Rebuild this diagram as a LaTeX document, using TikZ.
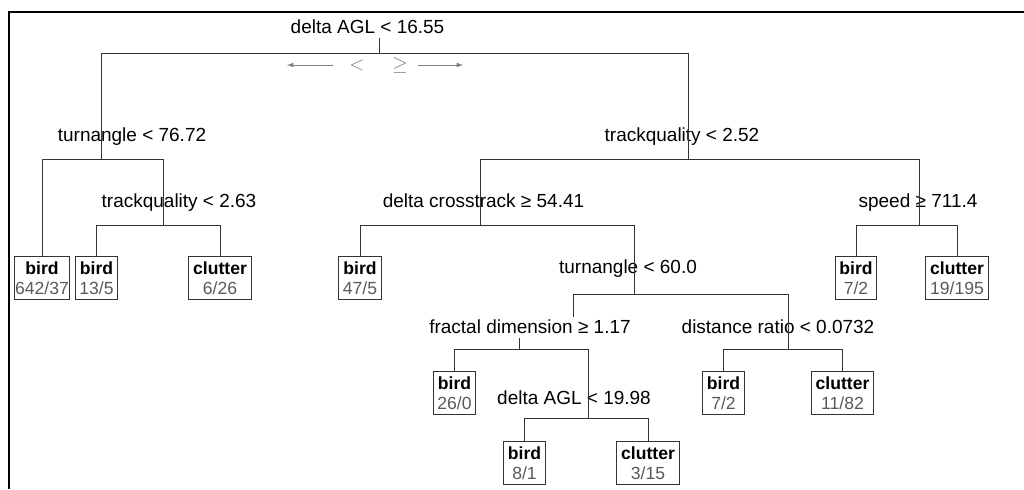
\documentclass[tikz,border=0pt]{standalone}
\usepackage{fontspec}
\setmainfont{Liberation Sans}
\tikzset{
  split/.style={anchor=base, font=\fontsize{13.5}{16}\selectfont},
  leaf/.style={draw=black!80, line width=0.7pt, anchor=north, align=center,
    inner xsep=3pt, inner ysep=3.4pt, font=\fontsize{12.5}{14.5}\selectfont},
  branch/.style={draw=black!80, line width=0.7pt},
  hintsym/.style={black!50, font=\fontsize{15}{17}\selectfont},
  hint/.style={black!50, line width=0.6pt, -latex},
}
\newcommand{\leaflabel}[2]{\textbf{#1}\\{\color{black!65}#2}}
\begin{document}
\begin{tikzpicture}[x=0.025cm, y=-0.025cm]
        \useasboundingbox (0,0) rectangle (1024,489);
        \draw[line width=1.8pt] (9,489) -- (9,12) -- (1024,12);

        % Split labels
        \node[split] (root) at (367.5,33) {delta AGL < 16.55};
        \node[split] (turnA) at (132,141) {turnangle < 76.72};
        \node[split] (tqA) at (179,207) {trackquality < 2.63};
        \node[split] (tqB) at (682,141) {trackquality < 2.52};
        \node[split] (cross) at (483.5,207) {delta crosstrack ≥ 54.41};
        \node[split] (speed) at (918,207) {speed ≥ 711.4};
        \node[split] (turnB) at (628,273) {turnangle < 60.0};
        \node[split] (frac) at (530,333) {fractal dimension ≥ 1.17};
        \node[split] (dist) at (778,333) {distance ratio < 0.0732};
        \node[split] (aglB) at (574,404) {delta AGL < 19.98};

        % Bar junctions
        \coordinate (rootb) at (379,53);
        \coordinate (turnAb) at (101,159);
        \coordinate (tqAb) at (163,225);
        \coordinate (tqBb) at (688,159);
        \coordinate (crossb) at (480,225);
        \coordinate (speedb) at (919,225);
        \coordinate (turnBb) at (634,294);
        \coordinate (fracin) at (573,317);
        \coordinate (fracb) at (519,349);
        \coordinate (distb) at (788,349);
        \coordinate (aglBb) at (588,418);

        % Leaves
        \node[leaf, inner xsep=0.5pt] (birdA) at (42,256) {\leaflabel{bird}{642/37}};
        \node[leaf] (birdB) at (96.5,256) {\leaflabel{bird}{13/5}};
        \node[leaf] (clutA) at (220,256) {\leaflabel{clutter}{6/26}};
        \node[leaf] (birdC) at (360,256) {\leaflabel{bird}{47/5}};
        \node[leaf] (birdD) at (856,256) {\leaflabel{bird}{7/2}};
        \node[leaf] (clutB) at (957,256) {\leaflabel{clutter}{19/195}};
        \node[leaf] (birdE) at (454.5,371) {\leaflabel{bird}{26/0}};
        \node[leaf] (birdF) at (723.5,371) {\leaflabel{bird}{7/2}};
        \node[leaf] (clutC) at (842.5,371) {\leaflabel{clutter}{11/82}};
        \node[leaf] (birdG) at (524.5,441) {\leaflabel{bird}{8/1}};
        \node[leaf] (clutD) at (648,441) {\leaflabel{clutter}{3/15}};

        % Branches
        \draw[branch] (root.south -| rootb) -- (rootb);
        \draw[branch] (rootb) -| (turnAb);
        \draw[branch] (rootb) -| (tqBb);
        \draw[branch] (turnAb) -| (birdA.north);
        \draw[branch] (turnAb) -| (tqAb);
        \draw[branch] (tqAb) -| (birdB.north);
        \draw[branch] (tqAb) -| (clutA.north);
        \draw[branch] (tqBb) -| (crossb);
        \draw[branch] (tqBb) -| (speedb);
        \draw[branch] (crossb) -| (birdC.north);
        \draw[branch] (crossb) -| (turnBb);
        \draw[branch] (speedb) -| (birdD.north);
        \draw[branch] (speedb) -| (clutB.north);
        \draw[branch] (turnBb) -| (fracin);
        \draw[branch] (turnBb) -| (distb);
        \draw[branch] (frac.south -| fracb) -- (fracb);
        \draw[branch] (fracb) -| (birdE.north);
        \draw[branch] (fracb) -| (aglBb);
        \draw[branch] (distb) -| (birdF.north);
        \draw[branch] (distb) -| (clutC.north);
        \draw[branch] (aglBb) -| (birdG.north);
        \draw[branch] (aglBb) -| (clutD.north);

        % Direction hint under the root
        \node[hintsym] (lt) at (357,65) {$<$};
        \node[hintsym] (ge) at (400,65) {$\geq$};
        \coordinate (ltail) at (333,65);
        \coordinate (lhead) at (287,65);
        \coordinate (rtail) at (418,65);
        \coordinate (rhead) at (463,65);
        \draw[hint] (ltail) -- (lhead);
        \draw[hint] (rtail) -- (rhead);
\end{tikzpicture}
\end{document}
